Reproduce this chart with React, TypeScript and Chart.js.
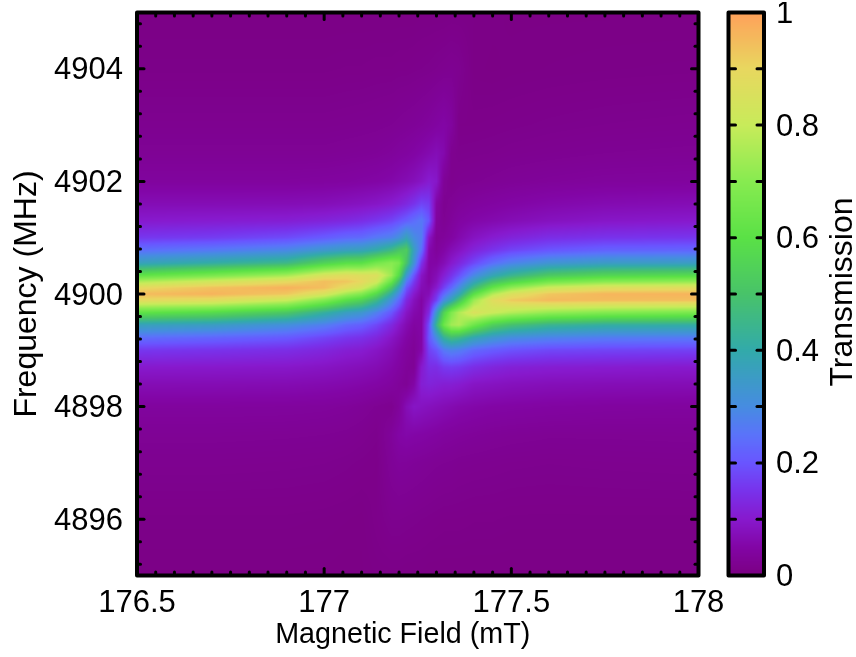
import React, { useEffect, useRef } from "react";
import { Chart, registerables } from "chart.js";

Chart.register(...registerables);

const FONT = "'Liberation Sans', Arial, sans-serif";

// Magnetic field (mT) of each table column
const fields = [176.5, 176.7, 176.9, 177, 177.06, 177.1, 177.14, 177.18, 177.2, 177.22, 177.24, 177.26, 177.28, 177.3, 177.32, 177.34, 177.36, 177.4, 177.45, 177.5, 177.6, 177.75, 178];
// Frequency (MHz) of each table row
const frequencies = [4905, 4904, 4903, 4902.5, 4902, 4901.6, 4901.3, 4901, 4900.78, 4900.55, 4900.33, 4900.22, 4900.11, 4900, 4899.89, 4899.67, 4899.45, 4899.22, 4899, 4898.7, 4898.4, 4898, 4897.5, 4897, 4896, 4895];
// Transmission, one row per frequency
const transmission = [
  [.006,.006,.006,.006,.006,.006,.006,.006,.006,.006,.006,.007,.007,.007,.007,.008,.008,.008,.007,.006,.006,.006,.006],
  [.01,.01,.01,.01,.011,.011,.012,.012,.013,.013,.014,.015,.016,.018,.02,.022,.02,.007,.006,.007,.008,.009,.01],
  [.02,.02,.02,.02,.021,.022,.023,.025,.027,.029,.031,.034,.038,.044,.05,.04,.012,.012,.013,.014,.016,.018,.02],
  [.027,.027,.027,.027,.029,.03,.032,.036,.04,.043,.048,.055,.063,.072,.06,.02,.016,.017,.018,.02,.022,.025,.027],
  [.04,.04,.04,.042,.044,.047,.05,.056,.062,.068,.076,.088,.105,.095,.03,.018,.022,.024,.027,.03,.034,.038,.04],
  [.07,.07,.071,.074,.08,.085,.092,.104,.115,.13,.15,.175,.165,.05,.022,.028,.034,.04,.045,.05,.058,.065,.07],
  [.1,.105,.11,.12,.13,.14,.155,.175,.195,.215,.24,.26,.2,.04,.025,.035,.045,.055,.062,.07,.082,.093,.1],
  [.157,.165,.185,.21,.23,.235,.26,.28,.31,.37,.3,.27,.09,.03,.035,.045,.06,.085,.105,.12,.14,.15,.155],
  [.24,.26,.29,.335,.36,.37,.405,.46,.51,.53,.36,.24,.06,.035,.05,.07,.085,.12,.15,.175,.2,.22,.225],
  [.37,.41,.455,.55,.595,.6,.66,.7,.67,.5,.32,.15,.05,.05,.07,.1,.125,.18,.24,.28,.325,.35,.355],
  [.61,.67,.745,.845,.875,.865,.86,.73,.58,.335,.2,.09,.05,.07,.11,.15,.19,.29,.38,.44,.52,.56,.58],
  [.76,.825,.89,.945,.93,.895,.825,.63,.47,.26,.16,.08,.05,.08,.135,.18,.24,.37,.49,.56,.655,.7,.72],
  [.89,.94,.97,.945,.875,.83,.715,.51,.37,.2,.13,.07,.06,.1,.17,.23,.3,.465,.62,.715,.815,.865,.875],
  [.95,.965,.93,.845,.74,.69,.575,.4,.285,.165,.1,.06,.07,.14,.23,.3,.375,.595,.765,.855,.93,.96,.965],
  [.89,.875,.805,.69,.595,.55,.455,.31,.23,.13,.08,.05,.09,.17,.3,.38,.49,.73,.875,.925,.955,.95,.945],
  [.61,.58,.515,.42,.36,.335,.275,.2,.145,.09,.06,.05,.13,.34,.55,.68,.76,.855,.81,.77,.72,.69,.67],
  [.37,.355,.31,.27,.23,.215,.18,.13,.095,.065,.045,.05,.19,.44,.64,.74,.76,.645,.54,.49,.44,.415,.41],
  [.24,.225,.205,.175,.155,.145,.125,.09,.07,.05,.035,.05,.2,.3,.42,.47,.45,.38,.33,.3,.28,.265,.26],
  [.157,.15,.14,.125,.11,.105,.09,.07,.055,.04,.03,.055,.17,.2,.26,.28,.27,.23,.21,.195,.18,.175,.17],
  [.1,.098,.095,.088,.08,.075,.068,.055,.045,.033,.028,.1,.14,.14,.16,.165,.16,.14,.125,.115,.108,.105,.1],
  [.07,.069,.067,.063,.059,.055,.05,.042,.034,.028,.05,.11,.12,.115,.11,.11,.105,.09,.085,.08,.075,.072,.07],
  [.04,.04,.039,.037,.034,.03,.024,.02,.035,.07,.09,.085,.08,.075,.07,.065,.06,.055,.05,.048,.045,.042,.04],
  [.027,.027,.026,.025,.023,.02,.016,.035,.05,.055,.052,.05,.047,.044,.04,.038,.036,.033,.03,.028,.026,.026,.027],
  [.02,.02,.019,.018,.016,.014,.012,.03,.035,.034,.032,.03,.028,.026,.025,.024,.022,.021,.02,.019,.018,.019,.02],
  [.01,.01,.01,.009,.008,.007,.012,.018,.018,.017,.016,.015,.014,.013,.012,.012,.012,.011,.011,.01,.01,.01,.01],
  [.006,.006,.006,.006,.005,.006,.008,.008,.008,.007,.007,.007,.006,.006,.006,.006,.006,.006,.006,.006,.006,.006,.006],
];

// Colour scale
const colorStops = [0, .05, .1, .15, .2, .25, .3, .4, .5, .6, .7, .8, .9, 1];
const colorValues = [
  [123, 0, 130], [130, 5, 165], [135, 25, 205], [120, 50, 235], [105, 85, 255], [90, 115, 250], [70, 140, 225],
  [50, 170, 170], [72, 195, 105], [90, 225, 70], [135, 235, 80], [200, 235, 90], [232, 215, 95], [255, 160, 90],
];

const xTickValues = [176.55, 176.6, 176.65, 176.7, 176.75, 176.8, 176.85, 176.9, 176.95, 177, 177.05, 177.1, 177.15, 177.2, 177.25, 177.3, 177.35, 177.4, 177.45, 177.5, 177.55, 177.6, 177.65, 177.7, 177.75, 177.8, 177.85, 177.9, 177.95, 176.5, 178];
const yTickValues = [4895.2, 4895.6, 4896, 4896.4, 4896.8, 4897.2, 4897.6, 4898, 4898.4, 4898.8, 4899.2, 4899.6, 4900, 4900.4, 4900.8, 4901.2, 4901.6, 4902, 4902.4, 4902.8, 4903.2, 4903.6, 4904, 4904.4, 4904.8];
const xTickLabels = ["176.5", "177", "177.5", "178"];
const yTickLabels = ["4896", "4898", "4900", "4902", "4904"];
const barTickValues = [0, .1, .2, .3, .4, .5, .6, .7, .8, .9, 1];
const barTickLabels = ["0", "0.2", "0.4", "0.6", "0.8", "1"];

function colorAt(v: number): number[] {
  const t = Math.max(0, Math.min(1, v));
  let i = 0;
  while (i < colorStops.length - 2 && t > colorStops[i + 1]) i++;
  const f = (t - colorStops[i]) / (colorStops[i + 1] - colorStops[i]);
  return colorValues[i].map((c, k) => c + (colorValues[i + 1][k] - c) * f);
}

function bracket(list: number[], value: number, descending: boolean): [number, number] {
  for (let i = 0; i < list.length - 1; i++) {
    const a = list[i], b = list[i + 1];
    if (descending ? value >= b : value <= b) {
      return [i, Math.max(0, Math.min(1, (value - a) / (b - a)))];
    }
  }
  return [list.length - 2, 1];
}

const heatPlugin = {
  id: "heat",
  beforeDatasetsDraw(chart: any) {
    const { ctx, chartArea: a, scales } = chart;
    const left = Math.floor(a.left), top = Math.floor(a.top);
    const w = Math.ceil(a.right - left), h = Math.ceil(a.bottom - top);
    const img = ctx.createImageData(w, h);
    const rows = Array.from({ length: h }, (_, py) => bracket(frequencies, scales.y.getValueForPixel(top + py + 0.5), true));
    const cols = Array.from({ length: w }, (_, px) => bracket(fields, scales.x.getValueForPixel(left + px + 0.5), false));
    for (let py = 0; py < h; py++) {
      const [r, fr] = rows[py];
      for (let px = 0; px < w; px++) {
        const [c, fc] = cols[px];
        const v =
          (transmission[r][c] * (1 - fc) + transmission[r][c + 1] * fc) * (1 - fr) +
          (transmission[r + 1][c] * (1 - fc) + transmission[r + 1][c + 1] * fc) * fr;
        const rgb = colorAt(v);
        const o = (py * w + px) * 4;
        img.data[o] = rgb[0]; img.data[o + 1] = rgb[1]; img.data[o + 2] = rgb[2]; img.data[o + 3] = 255;
      }
    }
    ctx.putImageData(img, left, top);
  },
};

function line(ctx: any, x0: number, y0: number, x1: number, y1: number) {
  ctx.beginPath();
  ctx.moveTo(x0, y0);
  ctx.lineTo(x1, y1);
  ctx.stroke();
}

const framePlugin = {
  id: "frame",
  afterDatasetsDraw(chart: any) {
    const { ctx, chartArea: a, scales } = chart;
    ctx.save();
    ctx.strokeStyle = "#000";
    ctx.lineCap = "round";
    ctx.lineWidth = 3;
    scales.x.ticks.forEach((t: any) => {
      if (t.value <= scales.x.min + 1e-6 || t.value >= scales.x.max - 1e-6) return;
      const x = scales.x.getPixelForValue(t.value);
      const len = t.label ? 7 : 3.5;
      line(ctx, x, a.bottom, x, a.bottom - len);
      line(ctx, x, a.top, x, a.top + len);
    });
    scales.y.ticks.forEach((t: any) => {
      const y = scales.y.getPixelForValue(t.value);
      const len = t.label ? 7 : 3.5;
      line(ctx, a.left, y, a.left + len, y);
      line(ctx, a.right, y, a.right - len, y);
    });
    ctx.lineWidth = 4;
    ctx.lineCap = "butt";
    ctx.lineJoin = "round";
    ctx.strokeRect(a.left, a.top, a.right - a.left, a.bottom - a.top);
    ctx.restore();
  },
};

const barPlugin = {
  id: "bar",
  beforeDatasetsDraw(chart: any) {
    const { ctx, chartArea: a, scales } = chart;
    for (let py = Math.floor(a.top); py < a.bottom; py++) {
      const rgb = colorAt(scales.y.getValueForPixel(py + 0.5));
      ctx.fillStyle = `rgb(${rgb[0]},${rgb[1]},${rgb[2]})`;
      ctx.fillRect(a.left, py, a.right - a.left, 1);
    }
  },
  afterDatasetsDraw(chart: any) {
    const { ctx, chartArea: a, scales } = chart;
    ctx.save();
    ctx.strokeStyle = "#000";
    ctx.lineCap = "round";
    ctx.lineWidth = 3;
    scales.y.ticks.forEach((t: any) => {
      if (t.value <= 0.001 || t.value >= 0.999) return;
      const y = scales.y.getPixelForValue(t.value);
      line(ctx, a.left, y, a.left + 7, y);
      line(ctx, a.right, y, a.right - 7, y);
    });
    ctx.lineWidth = 4;
    ctx.lineJoin = "round";
    ctx.lineCap = "butt";
    ctx.strokeRect(a.left, a.top, a.right - a.left, a.bottom - a.top);
    ctx.fillStyle = "#000";
    ctx.font = `32px ${FONT}`;
    ctx.textAlign = "center";
    ctx.textBaseline = "middle";
    ctx.translate(143, 292);
    ctx.rotate(-Math.PI / 2);
    ctx.fillText("Transmission", 0, 0);
    ctx.restore();
  },
};

// Nudges the text of a scale: the reference's labels sit a little off Chart.js's own anchors.
function nudge(scale: any, method: string, dx: number, dy: number) {
  const own = scale[method];
  scale[method] = function (...args: any[]) {
    const ctx = this.ctx;
    ctx.save();
    ctx.translate(dx, dy);
    own.apply(this, args);
    ctx.restore();
  };
}

const nudgePlugin = {
  id: "nudge",
  beforeDraw(chart: any) {
    const { x, y } = chart.scales;
    if (chart.$nudged) return;
    chart.$nudged = true;
    if (y) nudge(y, "drawLabels", 0, 2);
    if (x && x.options.display) nudge(x, "drawTitle", -15, 0);
  },
};

const fitX = (h: number) => (s: any) => {
  s.height = h;
  s.paddingLeft = 0;
  s.paddingRight = 0;
};
const fitY = (w: number) => (s: any) => {
  s.width = w;
  s.paddingTop = 0;
  s.paddingBottom = 0;
};

export default function App() {
  const mainRef = useRef<HTMLCanvasElement>(null);
  const barRef = useRef<HTMLCanvasElement>(null);

  useEffect(() => {
    document.body.style.margin = "0";
    const points = frequencies.flatMap((f) => fields.map((x) => ({ x, y: f })));
    const main = new Chart(mainRef.current!, {
      type: "scatter",
      data: { datasets: [{ label: "Transmission", data: points, pointRadius: 0, pointHoverRadius: 0 }] },
      plugins: [heatPlugin, framePlugin, nudgePlugin],
      options: {
        animation: false,
        responsive: false,
        layout: { padding: { top: 12.5, right: 61.5, left: 0, bottom: 0 } },
        plugins: { legend: { display: false }, tooltip: { enabled: false } },
        scales: {
          x: {
            type: "linear",
            min: 176.5,
            max: 178,
            afterFit: fitX(81.5),
            afterBuildTicks: (s: any) => { s.ticks = xTickValues.map((value) => ({ value })); },
            grid: { display: false, drawTicks: false },
            border: { display: false },
            title: { display: true, text: "Magnetic Field (mT)", color: "#000", font: { family: FONT, size: 28.7 }, padding: { top: 0, bottom: 5 } },
            ticks: {
              autoSkip: false,
              maxRotation: 0,
              padding: 9,
              color: "#000",
              font: { family: FONT, size: 31 },
              callback: (v: any) => xTickLabels.find((l) => Math.abs(parseFloat(l) - v) < 1e-6) ?? "",
            },
          },
          y: {
            type: "linear",
            min: 4895,
            max: 4905,
            afterFit: fitY(137),
            afterBuildTicks: (s: any) => { s.ticks = yTickValues.map((value) => ({ value })); },
            grid: { display: false, drawTicks: false },
            border: { display: false },
            title: { display: true, text: "Frequency (MHz)", color: "#000", font: { family: FONT, size: 32 }, padding: { top: 8, bottom: 0 } },
            ticks: {
              autoSkip: false,
              padding: 14,
              color: "#000",
              font: { family: FONT, size: 31 },
              callback: (v: any) => yTickLabels.find((l) => Math.abs(parseFloat(l) - v) < 1e-6) ?? "",
            },
          },
        },
      },
    } as any);

    const bar = new Chart(barRef.current!, {
      type: "scatter",
      data: { datasets: [{ label: "scale", data: colorStops.map((s) => ({ x: 0, y: s })), pointRadius: 0, pointHoverRadius: 0 }] },
      plugins: [barPlugin, nudgePlugin],
      options: {
        animation: false,
        responsive: false,
        layout: { padding: { top: 12.5, right: 0, left: 28.5, bottom: 81.5 } },
        plugins: { legend: { display: false }, tooltip: { enabled: false } },
        scales: {
          x: { type: "linear", display: false, min: -1, max: 1 },
          y: {
            type: "linear",
            position: "right",
            min: 0,
            max: 1,
            afterFit: fitY(92),
            afterBuildTicks: (s: any) => { s.ticks = barTickValues.map((value) => ({ value })); },
            grid: { display: false, drawTicks: false },
            border: { display: false },
            ticks: {
              autoSkip: false,
              padding: 12,
              color: "#000",
              font: { family: FONT, size: 31 },
              callback: (v: any) => barTickLabels.find((l) => Math.abs(parseFloat(l) - v) < 1e-6) ?? "",
            },
          },
        },
      },
    } as any);

    return () => {
      main.destroy();
      bar.destroy();
    };
  }, []);

  return (
    <div style={{ position: "relative", width: 856, height: 657, background: "#fff", overflow: "hidden" }}>
      <canvas ref={mainRef} width={760} height={657} style={{ position: "absolute", left: 0, top: 0 }} />
      <canvas ref={barRef} width={156} height={657} style={{ position: "absolute", left: 700, top: 0 }} />
    </div>
  );
}
